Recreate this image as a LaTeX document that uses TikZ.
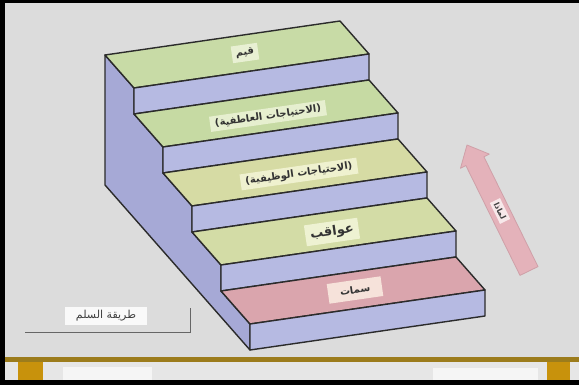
\documentclass[tikz,border=0pt]{standalone}
\usepackage{fontspec}
\newfontfamily\arabicfont[Script=Arabic]{DejaVu Sans}
\TeXXeTstate=1
\usetikzlibrary{calc}
\definecolor{bggray}{HTML}{DCDCDC}
\definecolor{footlight}{HTML}{E6E6E6}
\definecolor{goldline}{HTML}{9C7C1C}
\definecolor{goldcol}{HTML}{C8920C}
\definecolor{sidecol}{HTML}{A6A9D6}
\definecolor{risercol}{HTML}{B6BAE2}
\definecolor{faceA}{HTML}{C8DBA6}
\definecolor{faceB}{HTML}{C6DAA3}
\definecolor{faceC}{HTML}{D6DBA4}
\definecolor{faceD}{HTML}{D3DCA6}
\definecolor{faceE}{HTML}{DAA5AD}
\definecolor{boxA}{HTML}{E8F0D3}
\definecolor{boxB}{HTML}{E6EFCF}
\definecolor{boxC}{HTML}{EFF1CF}
\definecolor{boxD}{HTML}{EEF2D2}
\definecolor{boxE}{HTML}{F6E2DA}
\definecolor{edgecol}{HTML}{2B2B2B}
\definecolor{arrowfill}{HTML}{E4B2BA}
\definecolor{arrowedge}{HTML}{CFA0A8}
\tikzset{
  stepedge/.style={draw=edgecol, line width=1.4pt, line join=round},
  steplabel/.style={font=\arabicfont\bfseries\fontsize{10}{11}\selectfont, text=black!80,
                    inner xsep=5pt, inner ysep=3pt, rotate=8.2},
  footbox/.style={fill=white!92!gray, draw=none},
}
\begin{document}
\begin{tikzpicture}[x=1pt,y=-1pt]
\useasboundingbox (0,0) rectangle (579,385);
% frame and background
\fill[black] (0,0) rectangle (579,385);
\fill[bggray] (5,3) rectangle (579,380);
% footer
\fill[footlight] (5,362) rectangle (579,380);
\fill[goldline] (5,357) rectangle (579,362);
\fill[goldcol] (18,362) rectangle (43,380);
\fill[goldcol] (547,362) rectangle (570,380);
\node[footbox, minimum width=89pt, minimum height=13pt] (fl) at (107.5,373.5) {};
\node[footbox, minimum width=105pt, minimum height=12pt] (fr) at (485.5,374) {};
% side face of the stairs
\filldraw[fill=sidecol, stepedge] (105,55) -- (134,88) -- (134,114) -- (163,147) -- (163,173)
  -- (192,206) -- (192,232) -- (221,265) -- (221,291) -- (250,324) -- (250,350) -- (105,185) -- cycle;
% steps
\foreach \k/\fc in {0/faceA,1/faceB,2/faceC,3/faceD,4/faceE}{
  \pgfmathsetmacro{\bx}{105+29*\k}
  \pgfmathsetmacro{\by}{55+59*\k}
  \filldraw[fill=\fc, stepedge] (\bx,\by) -- ++(235,-34) -- ++(29,33) -- ++(-235,34) -- cycle;
  \filldraw[fill=risercol, stepedge] ({\bx+29},{\by+33}) -- ++(235,-34) -- ++(0,26) -- ++(-235,34) -- cycle;
}
% step labels
\node[steplabel, fill=boxA, inner xsep=4pt, inner ysep=4pt] (L1) at (245,53) {\beginR قيم\endR};
\node[steplabel, fill=boxB] (L2) at (268,116) {\beginR (الاحتياجات العاطفية)\endR};
\node[steplabel, fill=boxC] (L3) at (299,174) {\beginR (الاحتياجات الوظيفية)\endR};
\node[steplabel, fill=boxD, font=\arabicfont\bfseries\fontsize{13}{14}\selectfont, inner ysep=4pt] (L4) at (332,232) {\beginR عواقب\endR};
\node[steplabel, fill=boxE, inner xsep=12pt, inner ysep=6pt] (L5) at (355,290) {\beginR سمات\endR};
% arrow (drawn shape)
\filldraw[fill=arrowfill, draw=arrowedge, line width=0.8pt, line join=round]
  (520.0,275.4) -- (465.9,165.6) -- (460.5,168.3) -- (467,145) -- (489.3,154.1)
  -- (483.9,156.8) -- (538.0,266.6) -- cycle;
\node[fill=white!70!arrowfill, inner sep=2.5pt, rotate=-63.8,
      font=\arabicfont\bfseries\fontsize{8}{9}\selectfont, text=black!75] (al) at (500,211) {\beginR لماذا\endR};
% title box
\draw[gray!80!black, line width=0.8pt] (25,332) -| (190,308);
\node[fill=white!95!gray, minimum width=82pt, minimum height=18pt, font=\arabicfont\fontsize{11}{12}\selectfont, text=black!75] (title) at (106,316) {\beginR طريقة السلم\endR};
\end{tikzpicture}
\end{document}
